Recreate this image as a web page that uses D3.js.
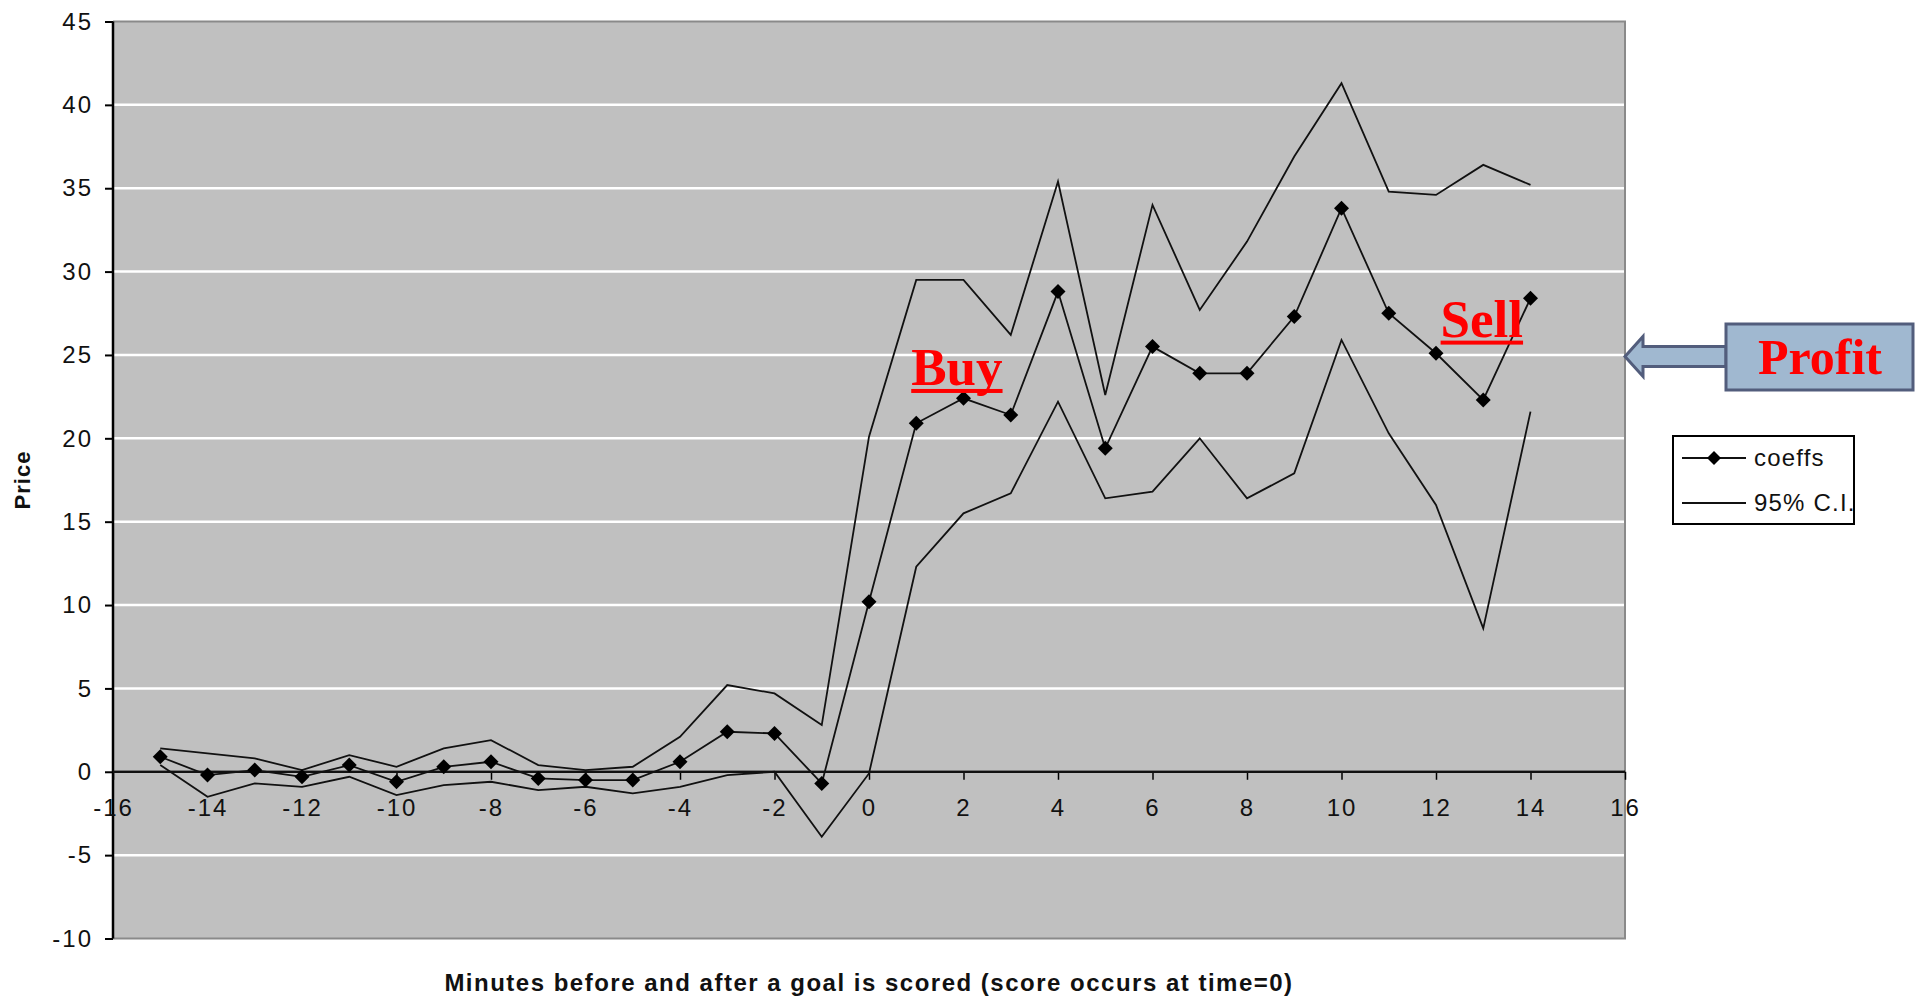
<!DOCTYPE html>
<html>
<head>
<meta charset="utf-8">
<script src="https://cdnjs.cloudflare.com/ajax/libs/d3/7.8.5/d3.min.js"></script>
<style>
  html, body { margin: 0; padding: 0; background: #fff; }
  svg { display: block; }
  .tick text { font-family: "Liberation Sans", Arial, sans-serif; font-size: 24px; letter-spacing: 2px; fill: #111; }
</style>
</head>
<body>
<svg id="chart" width="1923" height="999"></svg>
<script>
// Minutes relative to the goal (goal scored at time 0)
const minutes = [-15, -14, -13, -12, -11, -10, -9, -8, -7, -6, -5, -4, -3, -2, -1,
                 0, 1, 2, 3, 4, 5, 6, 7, 8, 9, 10, 11, 12, 13, 14];

// Estimated price coefficients
const coeffs = [0.9, -0.2, 0.1, -0.3, 0.4, -0.6, 0.3, 0.6, -0.4, -0.5, -0.5, 0.6, 2.4, 2.3, -0.7,
                10.2, 20.9, 22.4, 21.4, 28.8, 19.4, 25.5, 23.9, 23.9, 27.3, 33.8, 27.5, 25.1, 22.3, 28.4];

// 95% confidence interval bounds
const ciUpper = [1.4, 1.1, 0.8, 0.1, 1.0, 0.3, 1.4, 1.9, 0.4, 0.1, 0.3, 2.1, 5.2, 4.7, 2.8,
                 20.1, 29.5, 29.5, 26.2, 35.4, 22.6, 34.0, 27.7, 31.8, 36.9, 41.3, 34.8, 34.6, 36.4, 35.2];
const ciLower = [0.4, -1.5, -0.7, -0.9, -0.3, -1.4, -0.8, -0.6, -1.1, -0.9, -1.3, -0.9, -0.2, 0.0, -3.9,
                 -0.1, 12.3, 15.5, 16.7, 22.2, 16.4, 16.8, 20.0, 16.4, 17.9, 25.9, 20.3, 16.0, 8.6, 21.6];

// Axis ticks
const xTicks = [-16, -14, -12, -10, -8, -6, -4, -2, 0, 2, 4, 6, 8, 10, 12, 14, 16];
const yTicks = [-10, -5, 0, 5, 10, 15, 20, 25, 30, 35, 40, 45];

// Texts
const xTitle = "Minutes before and after a goal is scored (score occurs at time=0)";
const yTitle = "Price";
const legendLabels = ["coeffs", "95% C.I."];
const tradeNotes = [
  { label: "Buy",  minute: 1.86,  price: 23.2 },
  { label: "Sell", minute: 12.97, price: 26.1 }
];
const calloutLabel = "Profit";

const svg = d3.select("#chart");
const x = d3.scaleLinear().domain([-16, 16]).range([113, 1625]);
const y = d3.scaleLinear().domain([-10, 45]).range([938.5, 21.5]);

const plotL = x(-16), plotR = x(16), plotT = y(45), plotB = y(-10);
const plainNumber = d => String(d);

// Plot background
svg.append("rect")
  .attr("x", plotL).attr("y", plotT)
  .attr("width", plotR - plotL).attr("height", plotB - plotT)
  .attr("fill", "#c0c0c0");

// Horizontal gridlines
svg.append("g").selectAll("line")
  .data(yTicks.filter(v => v > -10 && v < 45))
  .join("line")
  .attr("x1", plotL).attr("x2", plotR)
  .attr("y1", d => y(d)).attr("y2", d => y(d))
  .attr("stroke", "#ffffff").attr("stroke-width", 2.5);

// Frame: grey top, right and bottom edges
svg.append("path")
  .attr("d", `M${plotL},${plotT}H${plotR}V${plotB}H${plotL}`)
  .attr("fill", "none").attr("stroke", "#8a8a8a").attr("stroke-width", 2);

// Y axis
const yAxis = svg.append("g")
  .attr("transform", `translate(${plotL},0)`)
  .call(d3.axisLeft(y).tickValues(yTicks).tickSize(8).tickPadding(12).tickFormat(plainNumber));
yAxis.select(".domain").remove();
yAxis.selectAll(".tick line").attr("stroke", "#000").attr("stroke-width", 2);
svg.append("line")
  .attr("x1", plotL).attr("x2", plotL).attr("y1", plotT).attr("y2", plotB)
  .attr("stroke", "#000").attr("stroke-width", 2.5);

// X axis crossing at price 0
const xAxis = svg.append("g")
  .attr("transform", `translate(0,${y(0)})`)
  .call(d3.axisBottom(x).tickValues(xTicks).tickSize(8).tickPadding(19).tickFormat(plainNumber));
xAxis.select(".domain").remove();
xAxis.selectAll(".tick line").attr("stroke", "#000").attr("stroke-width", 1.5);
svg.append("line")
  .attr("x1", plotL).attr("x2", plotR).attr("y1", y(0)).attr("y2", y(0))
  .attr("stroke", "#111").attr("stroke-width", 2.5);

// Series lines
const line = d3.line().x((d, i) => x(minutes[i])).y(d => y(d));
[ciUpper, ciLower, coeffs].forEach(series => {
  svg.append("path")
    .datum(series)
    .attr("d", line)
    .attr("fill", "none")
    .attr("stroke", "#111")
    .attr("stroke-width", 1.8)
    .attr("stroke-linejoin", "miter");
});

// Diamond markers on the coefficients
const diamond = r => `M0,${-r}L${r},0L0,${r}L${-r},0Z`;
svg.append("g").selectAll("path")
  .data(coeffs)
  .join("path")
  .attr("transform", (d, i) => `translate(${x(minutes[i])},${y(d)})`)
  .attr("d", diamond(7.5))
  .attr("fill", "#000");

// Axis titles
svg.append("text")
  .attr("x", (plotL + plotR) / 2).attr("y", 991)
  .attr("text-anchor", "middle")
  .attr("font-family", "Liberation Sans, Arial, sans-serif")
  .attr("font-size", 24).attr("font-weight", "bold").attr("fill", "#111")
  .attr("letter-spacing", "1.5px")
  .text(xTitle);
svg.append("text")
  .attr("transform", `translate(30,${(plotT + plotB) / 2}) rotate(-90)`)
  .attr("text-anchor", "middle")
  .attr("font-family", "Liberation Sans, Arial, sans-serif")
  .attr("font-size", 22).attr("font-weight", "bold").attr("fill", "#111")
  .attr("letter-spacing", "1px")
  .text(yTitle);

// Legend
const lg = svg.append("g");
lg.append("rect")
  .attr("x", 1673).attr("y", 436).attr("width", 181).attr("height", 88)
  .attr("fill", "#fff").attr("stroke", "#000").attr("stroke-width", 2);
legendLabels.forEach((lab, i) => {
  const ly = 458 + i * 45;
  lg.append("line").attr("x1", 1682).attr("x2", 1746).attr("y1", ly).attr("y2", ly)
    .attr("stroke", "#111").attr("stroke-width", 1.8);
  if (i === 0) {
    lg.append("path").attr("transform", `translate(1714,${ly})`).attr("d", diamond(7)).attr("fill", "#000");
  }
  lg.append("text").attr("x", 1754).attr("y", ly).attr("dy", "0.35em")
    .attr("font-family", "Liberation Sans, Arial, sans-serif")
    .attr("font-size", 24).attr("fill", "#111")
    .attr("letter-spacing", "1.2px")
    .text(lab);
});

// Buy / Sell notes
tradeNotes.forEach(n => {
  const t = svg.append("text")
    .attr("x", x(n.minute)).attr("y", y(n.price))
    .attr("text-anchor", "middle")
    .attr("font-family", "Liberation Serif, 'Times New Roman', serif")
    .attr("font-size", 53).attr("font-weight", "bold").attr("fill", "#ff0000")
    .text(n.label);
  const bb = t.node().getBBox();
  svg.append("rect")
    .attr("x", bb.x).attr("y", y(n.price) + 4)
    .attr("width", bb.width).attr("height", 4)
    .attr("fill", "#ff0000");
});

// Profit callout with arrow pointing at the plot edge
const tipY = y(25) + 1.5;
const callout = svg.append("g");
callout.append("path")
  .attr("d", `M${plotR},${tipY} L${plotR + 18},${tipY - 20} L${plotR + 18},${tipY - 10} L1726,${tipY - 10} L1726,${tipY + 10} L${plotR + 18},${tipY + 10} L${plotR + 18},${tipY + 20} Z`)
  .attr("fill", "#a0b8d0").attr("stroke", "#525d7c").attr("stroke-width", 3).attr("stroke-linejoin", "miter");
callout.append("rect")
  .attr("x", 1726).attr("y", 324).attr("width", 187).attr("height", 66)
  .attr("fill", "#a0b8d0").attr("stroke", "#525d7c").attr("stroke-width", 3);
callout.append("text")
  .attr("x", 1820).attr("y", 374)
  .attr("text-anchor", "middle")
  .attr("font-family", "Liberation Serif, 'Times New Roman', serif")
  .attr("font-size", 50).attr("font-weight", "bold").attr("fill", "#ff0000")
  .text(calloutLabel);
</script>
</body>
</html>
